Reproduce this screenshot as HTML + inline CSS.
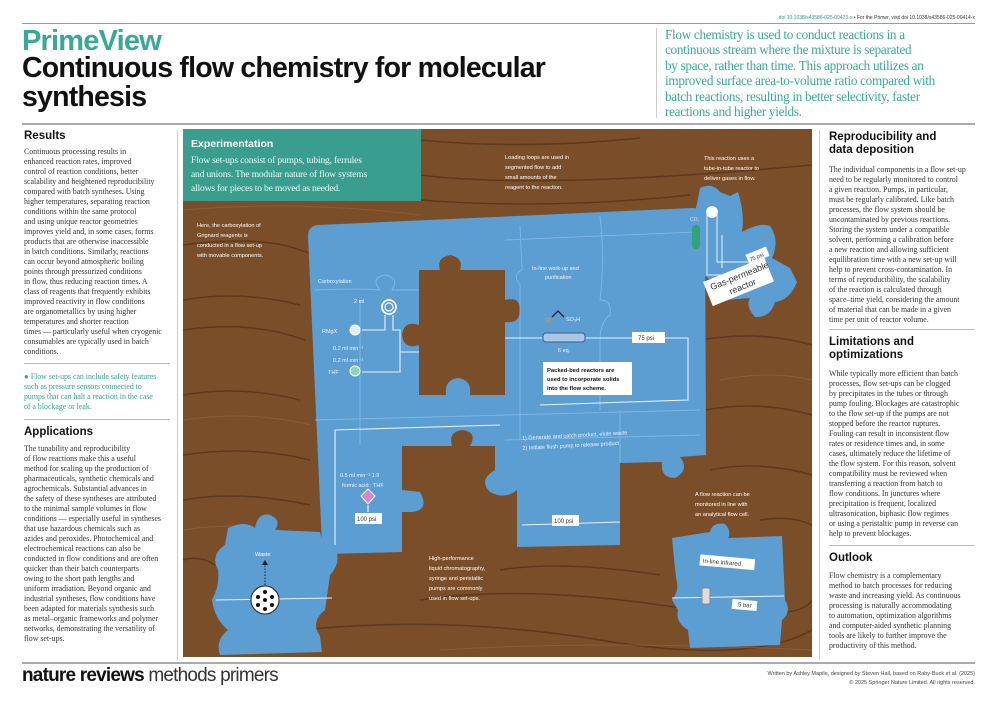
<!DOCTYPE html>
<html><head><meta charset="utf-8">
<style>
*{margin:0;padding:0;box-sizing:border-box}
body{width:1000px;height:707px;background:#fff;position:relative;overflow:hidden;font-family:"Liberation Sans",sans-serif;color:#222}
.abs{position:absolute}
.h{font-family:"Liberation Sans",sans-serif;font-weight:bold;font-size:11.5px;color:#111;line-height:13px}
.b{font-family:"Liberation Serif",serif;font-size:7.9px;line-height:10px;color:#333;letter-spacing:-0.02px;white-space:nowrap}
.rule{position:absolute;height:1px;background:#bbb}
</style></head><body>
<div class="abs" style="left:640px;top:15px;width:335px;text-align:right;font-size:5px;color:#2a9a88;white-space:nowrap">doi 10.1038/s43586-025-00423-x <span style="color:#333">• For the Primer, visit doi 10.1038/s43586-025-00414-x</span></div>
<div class="rule" style="left:22px;top:23px;width:953px;background:#999"></div>
<div class="abs" style="left:22px;top:25px;font-size:29px;font-weight:bold;color:#3aa896;letter-spacing:-0.8px">PrimeView</div>
<div class="abs" style="left:22px;top:54px;font-size:28.5px;font-weight:bold;color:#111;letter-spacing:-0.8px;line-height:29px">Continuous flow chemistry for molecular<br>synthesis</div>
<div class="abs" style="left:656px;top:28px;width:1px;height:90px;background:#ccc"></div>
<div class="abs" style="left:665px;top:27px;font-family:'Liberation Serif',serif;font-size:13.2px;line-height:15.4px;color:#3aa896;letter-spacing:-0.3px;white-space:nowrap">Flow chemistry is used to conduct reactions in a<br>continuous stream where the mixture is separated<br>by space, rather than time. This approach utilizes an<br>improved surface area-to-volume ratio compared with<br>batch reactions, resulting in better selectivity, faster<br>reactions and higher yields.</div>
<div class="rule" style="left:22px;top:123px;width:953px;height:2px;background:#aaa"></div>

<!-- left column -->
<div class="abs h" style="left:24px;top:130px">Results</div>
<div class="abs b" style="left:24px;top:147px">Continuous processing results in<br>enhanced reaction rates, improved<br>control of reaction conditions, better<br>scalability and heightened reproducibility<br>compared with batch syntheses. Using<br>higher temperatures, separating reaction<br>conditions within the same protocol<br>and using unique reactor geometries<br>improves yield and, in some cases, forms<br>products that are otherwise inaccessible<br>in batch conditions. Similarly, reactions<br>can occur beyond atmospheric boiling<br>points through pressurized conditions<br>in flow, thus reducing reaction times. A<br>class of reagents that frequently exhibits<br>improved reactivity in flow conditions<br>are organometallics by using higher<br>temperatures and shorter reaction<br>times — particularly useful when cryogenic<br>consumables are typically used in batch<br>conditions.</div>
<div class="rule" style="left:24px;top:363px;width:146px"></div>
<div class="abs b" style="left:24px;top:372px;color:#2fa594">● Flow set-ups can include safety features<br>such as pressure sensors connected to<br>pumps that can halt a reaction in the case<br>of a blockage or leak.</div>
<div class="rule" style="left:24px;top:419px;width:146px"></div>
<div class="abs h" style="left:24px;top:426px">Applications</div>
<div class="abs b" style="left:24px;top:444px">The tunability and reproducibility<br>of flow reactions make this a useful<br>method for scaling up the production of<br>pharmaceuticals, synthetic chemicals and<br>agrochemicals. Substantial advances in<br>the safety of these syntheses are attributed<br>to the minimal sample volumes in flow<br>conditions — especially useful in syntheses<br>that use hazardous chemicals such as<br>azides and peroxides. Photochemical and<br>electrochemical reactions can also be<br>conducted in flow conditions and are often<br>quicker than their batch counterparts<br>owing to the short path lengths and<br>uniform irradiation. Beyond organic and<br>industrial syntheses, flow conditions have<br>been adapted for materials synthesis such<br>as metal–organic frameworks and polymer<br>networks, demonstrating the versatility of<br>flow set-ups.</div>
<div class="abs" style="left:177px;top:130px;width:1px;height:530px;background:#ccc"></div>

<!-- right column -->
<div class="abs" style="left:819px;top:130px;width:1px;height:530px;background:#ccc"></div>
<div class="abs h" style="left:829px;top:131px">Reproducibility and<br>data deposition</div>
<div class="abs b" style="left:829px;top:165px">The individual components in a flow set-up<br>need to be regularly monitored to control<br>a given reaction. Pumps, in particular,<br>must be regularly calibrated. Like batch<br>processes, the flow system should be<br>uncontaminated by previous reactions.<br>Storing the system under a compatible<br>solvent, performing a calibration before<br>a new reaction and allowing sufficient<br>equilibration time with a new set-up will<br>help to prevent cross-contamination. In<br>terms of reproducibility, the scalability<br>of the reaction is calculated through<br>space–time yield, considering the amount<br>of material that can be made in a given<br>time per unit of reactor volume.</div>
<div class="rule" style="left:829px;top:329px;width:146px"></div>
<div class="abs h" style="left:829px;top:336px">Limitations and<br>optimizations</div>
<div class="abs b" style="left:829px;top:369px">While typically more efficient than batch<br>processes, flow set-ups can be clogged<br>by precipitates in the tubes or through<br>pump fouling. Blockages are catastrophic<br>to the flow set-up if the pumps are not<br>stopped before the reactor ruptures.<br>Fouling can result in inconsistent flow<br>rates or residence times and, in some<br>cases, ultimately reduce the lifetime of<br>the flow system. For this reason, solvent<br>compatibility must be reviewed when<br>transferring a reaction from batch to<br>flow conditions. In junctures where<br>precipitation is frequent, localized<br>ultrasonication, biphasic flow regimes<br>or using a peristaltic pump in reverse can<br>help to prevent blockages.</div>
<div class="rule" style="left:829px;top:545px;width:146px"></div>
<div class="abs h" style="left:829px;top:552px">Outlook</div>
<div class="abs b" style="left:829px;top:571px">Flow chemistry is a complementary<br>method to batch processes for reducing<br>waste and increasing yield. As continuous<br>processing is naturally accommodating<br>to automation, optimization algorithms<br>and computer-aided synthetic planning<br>tools are likely to further improve the<br>productivity of this method.</div>

<div class="rule" style="left:22px;top:662px;width:953px;height:2px;background:#aaa"></div>
<div class="abs" style="left:22px;top:665px;font-size:19px;letter-spacing:-0.8px;color:#111;white-space:nowrap"><b>nature reviews</b> <span style="color:#333">methods primers</span></div>
<div class="abs" style="left:600px;top:670px;width:375px;text-align:right;font-size:5.5px;line-height:9px;color:#444;white-space:nowrap">Written by Ashley Mapile, designed by Steven Hall, based on Raby-Buck et al. (2025)<br>© 2025 Springer Nature Limited. All rights reserved.</div>

<!-- center illustration -->
<svg class="abs" style="left:0;top:0" width="1000" height="707" viewBox="0 0 1000 707">
<defs><clipPath id="w"><rect x="183" y="129" width="629" height="528"/></clipPath></defs>
<g clip-path="url(#w)">
<rect x="183" y="129" width="629" height="528" fill="#7b4e2a"/>
<g fill="none" stroke="#5a351a" stroke-width="1.6" opacity="0.85">
<path d="M183 170 Q300 160 420 175 T812 165"/><path d="M183 245 Q260 235 300 250 Q340 265 420 250"/>
<path d="M183 300 Q240 290 300 305"/><path d="M183 330 Q250 320 305 340"/><path d="M183 395 Q240 385 300 400"/>
<path d="M183 455 Q250 445 310 460"/><path d="M183 500 Q240 490 310 505"/><path d="M420 600 Q520 585 660 605 T812 600"/>
<path d="M300 630 Q450 615 600 640 T812 630"/><path d="M700 340 Q760 330 812 345"/><path d="M705 410 Q760 400 812 415"/>
<path d="M710 470 Q760 460 812 475"/><path d="M420 140 Q520 150 640 138"/><path d="M420 200 Q550 210 690 195"/>
<path d="M183 560 Q200 555 215 565"/><path d="M760 520 Q790 515 812 525"/><path d="M500 570 Q560 560 660 575"/>
</g>
<g fill="none" stroke="#946238" stroke-width="1" opacity="0.7">
<path d="M183 210 Q300 200 420 215"/><path d="M183 420 Q250 410 310 425"/><path d="M183 530 Q250 520 300 535"/>
<path d="M720 380 Q770 370 812 380"/><path d="M440 650 Q600 640 812 650"/><path d="M430 230 Q560 235 690 222"/>
</g>
<rect x="183" y="129" width="238" height="72" fill="#3a9e8f"/>
<text x="191" y="147" font-family="Liberation Sans" font-weight="bold" font-size="10.5" fill="#fff">Experimentation</text>
<text font-family="Liberation Serif" font-size="9.6" fill="#eafaf6" letter-spacing="-0.2"><tspan x="191" y="163">Flow set-ups consist of pumps, tubing, ferrules</tspan><tspan x="191" y="177">and unions. The modular nature of flow systems</tspan><tspan x="191" y="191">allows for pieces to be moved as needed.</tspan></text>
<g font-family="Liberation Sans" font-size="5.6" fill="#fff">
<text x="505" y="159">Loading loops are used in</text><text x="505" y="169">segmented flow to add</text><text x="505" y="179">small amounts of the</text><text x="505" y="189">reagent to the reaction.</text>
<text x="704" y="160">This reaction uses a</text><text x="704" y="170">tube-in-tube reactor to</text><text x="704" y="180">deliver gases in flow.</text>
<text x="197" y="227">Here, the carboxylation of</text><text x="197" y="237">Grignard reagents is</text><text x="197" y="247">conducted in a flow set-up</text><text x="197" y="257">with movable components.</text>
<text x="429" y="560">High-performance</text><text x="429" y="570">liquid chromatography,</text><text x="429" y="580">syringe and peristaltic</text><text x="429" y="590">pumps are commonly</text><text x="429" y="600">used in flow set-ups.</text>
<text x="695" y="496">A flow reaction can be</text><text x="695" y="506">monitored in line with</text><text x="695" y="516">an analytical flow cell.</text>
</g>
<path fill-rule="evenodd" fill="#5c9dd2" d="M308 236 Q308 226 318 225 L692 208 Q705 208 705 220 L706 455 L680 457 Q690 470 675 478 Q660 478 662 462 L620 463 L620 545 L517 547 L517 490 Q505 500 490 492 Q478 480 495 470 L495 446 L470 446 Q478 432 462 430 Q448 432 452 446 L402 446 L402 490 L420 492 Q430 510 412 512 L402 512 L402 552 L328 554 Q322 554 322 546 Z
M419 270 L440 270 Q436 258 450 255 Q464 258 460 270 L505 270 L505 300 Q520 296 520 310 Q520 324 505 322 L505 395 L470 395 Q472 380 458 378 Q444 380 446 395 L419 395 L419 345 Q404 350 402 335 Q404 320 419 325 Z"/>
<g fill="none" stroke="#86bde8" stroke-width="0.9" opacity="0.9">
<path d="M315 290 Q360 288 380 290 Q370 278 385 275 Q400 278 392 290 L419 290"/>
<path d="M505 240 L695 232"/><path d="M520 226 L522 270 Q512 275 520 285 L520 440"/>
<path d="M315 420 L700 410"/><path d="M600 216 Q605 260 600 300 Q612 300 610 315 Q600 322 600 340 L600 410"/>
<path d="M360 300 L360 445"/><path d="M505 440 L700 435"/><path d="M620 410 L620 463"/>
</g>
<g fill="none" stroke="#e6f2fc" stroke-width="1.1">
<path d="M362 330 L385 330 L385 315 M393 315 L393 330 L400 330 L400 372 L362 372"/>
<path d="M400 352 L419 352"/><path d="M505 338 L543 338"/><path d="M585 338 L688 338 L688 400 L540 405"/>
<path d="M335 430 L335 545 M335 430 L500 425"/><path d="M368 505 L368 512"/><path d="M522 525 L620 522"/>
</g>
<circle cx="389" cy="307" r="7" fill="none" stroke="#fff" stroke-width="1.8"/>
<circle cx="389" cy="307" r="4" fill="none" stroke="#fff" stroke-width="1.2"/>
<circle cx="355" cy="330" r="5" fill="#dff0fb" stroke="#fff"/>
<circle cx="355" cy="371" r="5" fill="#8fd6b6" stroke="#fff"/>
<path d="M368 489 L375 496 L368 504 L361 496 Z" fill="#cc88d6" stroke="#fff"/>
<rect x="543" y="333" width="42" height="9" rx="3" fill="#a9c7e4" stroke="#3c5f8a"/>
<circle cx="548" cy="320" r="3" fill="#999"/><path d="M552 317 L558 311 L564 317" stroke="#223" fill="none" stroke-width="1.3"/>
<g font-family="Liberation Sans" font-size="5.5" fill="#eef6fd">
<text x="318" y="283">Carboxylation</text>
<text x="532" y="270">In-line work-up and</text><text x="545" y="279">purification</text>
<text x="354" y="303">2 ml</text><text x="322" y="333">RMgX</text>
<text x="333" y="350">0.2 ml min⁻¹</text><text x="333" y="362">0.2 ml min⁻¹</text><text x="328" y="374">THF</text>
<text x="566" y="321">SO₃H</text><text x="558" y="352">6 eq.</text>
<text x="340" y="477">0.5 ml min⁻¹ 1:9</text><text x="342" y="487">formic acid : THF</text>
<g transform="rotate(-3 520 440)"><text x="522" y="440">1) Generate and catch product, elute waste</text><text x="522" y="450">2) Initiate flush pump to release product</text></g>
</g>
<rect x="632" y="332" width="33" height="11" fill="#fff"/><text x="638" y="340" font-family="Liberation Sans" font-size="6" fill="#333">75 psi</text>
<rect x="355" y="513" width="27" height="11" fill="#fff"/><text x="357" y="521" font-family="Liberation Sans" font-size="6" fill="#333">100 psi</text>
<rect x="552" y="515" width="27" height="11" fill="#fff"/><text x="554" y="523" font-family="Liberation Sans" font-size="6" fill="#333">100 psi</text>
<rect x="543" y="362" width="89" height="33" fill="#fff"/>
<text font-family="Liberation Sans" font-weight="bold" font-size="5.8" fill="#111"><tspan x="547" y="372">Packed-bed reactors are</tspan><tspan x="547" y="381">used to incorporate solids</tspan><tspan x="547" y="390">into the flow scheme.</tspan></text>
<path fill="#5c9dd2" d="M700 188 Q712 182 720 192 L730 196 L738 192 Q745 214 742 232 Q760 222 770 226 Q780 240 772 258 L790 268 L797 282 Q790 300 775 302 Q770 318 755 317 Q745 306 750 298 L725 300 Q718 288 720 282 Q706 280 700 270 L690 225 Q696 212 700 188 Z"/>
<circle cx="712" cy="212" r="6" fill="#fff" opacity="0.95"/>
<path d="M707 212 L707 275 L750 275 M717 212 L717 262 L748 262 M722 235 L722 268" stroke="#e6f2fc" fill="none" stroke-width="1"/>
<rect x="692" y="225" width="8" height="24" rx="4" fill="#2fa37a"/>
<text x="690" y="221" font-family="Liberation Sans" font-size="5" fill="#ddd">CO₂</text>
<g transform="rotate(-22 755 265)"><rect x="750" y="252" width="22" height="10" fill="#fff"/><text x="752" y="260" font-family="Liberation Sans" font-size="5.5" fill="#333">75 psi</text></g>
<g transform="rotate(-22 740 280)"><rect x="705" y="268" width="66" height="26" fill="#fff"/><text x="710" y="279" font-family="Liberation Sans" font-size="9" fill="#333">Gas-permeable</text><text x="726" y="290" font-family="Liberation Sans" font-size="9" fill="#333">reactor</text></g>
<path fill="#5c9dd2" d="M228 528 Q245 520 255 528 Q258 512 270 515 Q282 520 275 530 L320 532 Q322 545 335 548 Q342 562 330 575 L325 610 Q310 622 320 636 L322 652 L220 655 Q215 640 228 630 Q215 620 212 600 Q220 585 218 570 Q210 555 225 545 Z"/>
<path d="M216 600 L332 598" stroke="#e6f2fc" stroke-width="1"/>
<text x="255" y="556" font-family="Liberation Sans" font-size="5.5" fill="#fff">Waste</text>
<path d="M265 585 L265 563" stroke="#222" stroke-width="1" stroke-dasharray="1.5 1.5"/><path d="M262 565 L265 560 L268 565 Z" fill="#222"/>
<circle cx="265" cy="600" r="14" fill="#fff" stroke="#222"/>
<g fill="#111"><circle cx="265" cy="592" r="2"/><circle cx="258" cy="597" r="2"/><circle cx="272" cy="597" r="2"/><circle cx="265" cy="600" r="2"/><circle cx="258" cy="605" r="2"/><circle cx="272" cy="605" r="2"/><circle cx="265" cy="609" r="2"/></g>
<path fill="#5c9dd2" d="M672 538 L710 532 Q712 522 725 524 Q732 532 728 538 L782 536 L785 600 Q792 612 782 620 L780 645 L690 648 L688 630 Q675 622 678 610 L672 600 Q680 590 676 578 Z"/>
<path d="M672 598 L784 596" stroke="#e6f2fc" stroke-width="1"/>
<g transform="rotate(5 730 560)"><rect x="700" y="557" width="55" height="11" fill="#fff"/><text x="703" y="565" font-family="Liberation Sans" font-size="6" fill="#333">In-line infrared</text></g>
<rect x="702" y="588" width="8" height="16" rx="2" fill="#ddd" stroke="#888"/>
<g transform="rotate(5 745 605)"><rect x="732" y="600" width="25" height="10" fill="#fff"/><text x="738" y="607" font-family="Liberation Sans" font-size="6" fill="#333">5 bar</text></g>
</g>
</svg>
</body></html>
